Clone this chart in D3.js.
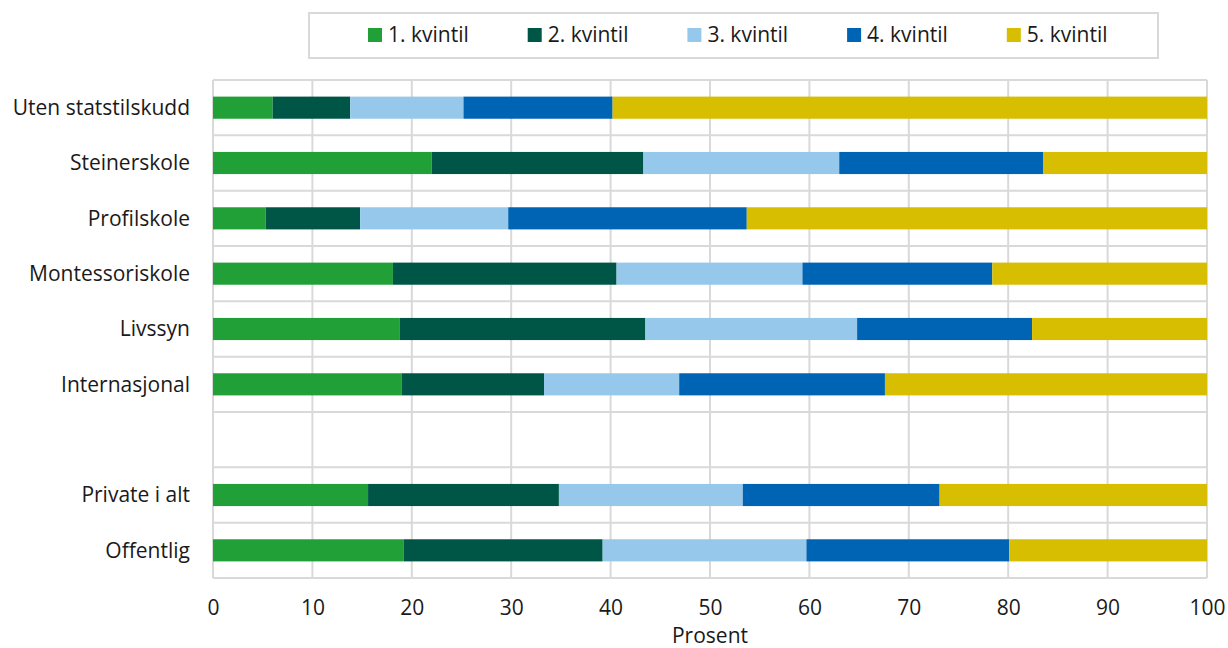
<!DOCTYPE html>
<html><head><meta charset="utf-8">
<script src="https://cdn.jsdelivr.net/npm/d3@7"></script>
<style>body{margin:0;background:#fff;} text{font-family:"Open Sans",sans-serif;fill:#1a1a1a;}</style>
</head><body>
<svg id="c" width="1228" height="648"></svg>
<script>
const categories = ["Uten statstilskudd","Steinerskole","Profilskole","Montessoriskole","Livssyn","Internasjonal","","Private i alt","Offentlig"];
const seriesNames = ["1. kvintil","2. kvintil","3. kvintil","4. kvintil","5. kvintil"];
const q1 = [6.0, 22.0, 5.3, 18.1, 18.8, 19.0, null, 15.6, 19.2];
const q2 = [7.8, 21.3, 9.5, 22.5, 24.7, 14.3, null, 19.2, 20.0];
const q3 = [11.4, 19.7, 14.9, 18.7, 21.3, 13.6, null, 18.5, 20.5];
const q4 = [15.0, 20.5, 24.0, 19.1, 17.6, 20.7, null, 19.8, 20.4];
const q5 = [59.8, 16.5, 46.3, 21.6, 17.6, 32.4, null, 26.9, 19.9];
const xTicks = [0,10,20,30,40,50,60,70,80,90,100];
const colors = ["#21a038","#005646","#96c8eb","#0064b4","#d7be00"];

const svg = d3.select("#c");
const m = {left:213, right:1207, top:80, bottom:578};
const FS = 21;
const x = d3.scaleLinear().domain([0,100]).range([m.left, m.right]);
const y = d3.scaleBand().domain(categories.map((c,i)=>i)).range([m.top, m.bottom]).paddingInner(0.6).paddingOuter(0.3);
const yStep = d3.scaleBand().domain(categories.map((c,i)=>i)).range([m.top, m.bottom]);

// grid
const g = svg.append("g");
g.selectAll(".vg").data(xTicks).join("line")
  .attr("x1",d=>x(d)).attr("x2",d=>x(d)).attr("y1",m.top).attr("y2",m.bottom)
  .attr("stroke","#d9d9d9").attr("stroke-width",2);
const hLines = categories.map((c,i)=>yStep(i)).concat([m.bottom]);
g.selectAll(".hg").data(hLines).join("line")
  .attr("x1",m.left).attr("x2",m.right).attr("y1",d=>d).attr("y2",d=>d)
  .attr("stroke","#d9d9d9").attr("stroke-width",2);

// stacked data
const rows = categories.map((c,i)=>({i, vals:[q1[i],q2[i],q3[i],q4[i],q5[i]]})).filter(r=>r.vals[0]!=null);
const barG = svg.append("g");
rows.forEach(r=>{
  let acc=0;
  r.vals.forEach((v,k)=>{
    barG.append("rect")
      .attr("x", x(acc)).attr("width", x(acc+v)-x(acc))
      .attr("y", y(r.i)).attr("height", y.bandwidth())
      .attr("fill", colors[k]);
    acc+=v;
  });
});

// y labels
svg.append("g").selectAll("text").data(categories.map((c,i)=>({c,i})).filter(d=>d.c)).join("text")
  .attr("x",190).attr("y",d=>yStep(d.i)+yStep.bandwidth()/2).attr("dy","0.35em")
  .attr("text-anchor","end").attr("font-size",FS).text(d=>d.c);

// x axis
const xa = svg.append("g").attr("transform",`translate(0,${m.bottom})`)
  .call(d3.axisBottom(x).tickValues(xTicks).tickSize(0).tickPadding(22));
xa.select(".domain").remove();
xa.selectAll("text").attr("font-size",FS).attr("font-family","Open Sans").attr("fill","#1a1a1a");
svg.append("text").attr("x",(m.left+m.right)/2).attr("y",643).attr("text-anchor","middle").attr("font-size",FS).text("Prosent");

// legend
const lg = svg.append("g");
lg.append("rect").attr("x",309).attr("y",13).attr("width",849).attr("height",45)
  .attr("fill","#fff").attr("stroke","#d9d9d9").attr("stroke-width",2);
seriesNames.forEach((s,k)=>{
  const lx = 368 + k*159.7;
  lg.append("rect").attr("x",lx).attr("y",28).attr("width",14).attr("height",14).attr("fill",colors[k]);
  lg.append("text").attr("x",lx+20).attr("y",35).attr("dy","0.35em").attr("font-size",FS).text(s);
});
</script>
</body></html>
